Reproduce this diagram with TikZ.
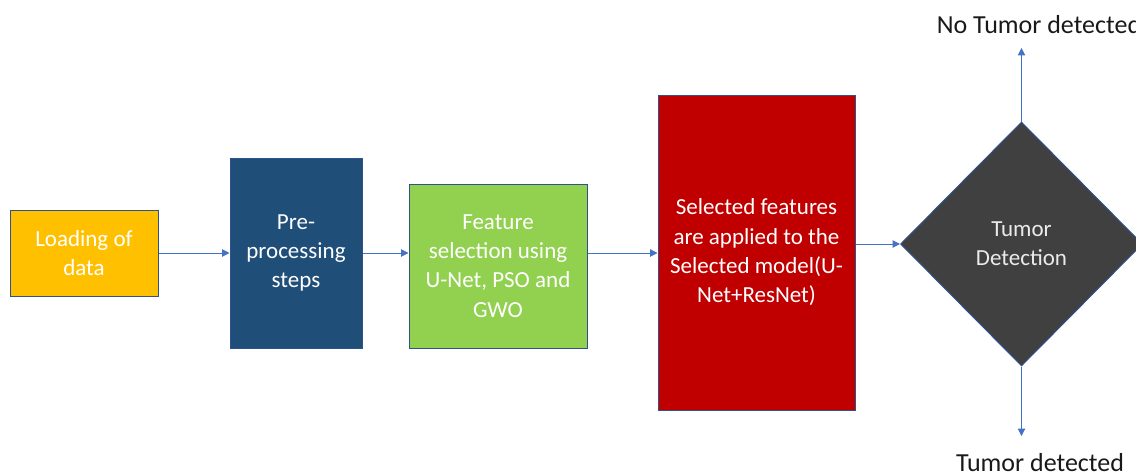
\documentclass[tikz,border=0pt]{standalone}
\usepackage{fontspec}
\setmainfont{Carlito}
\usetikzlibrary{shapes.geometric,arrows.meta}

\definecolor{boxline}{HTML}{2F528F}
\definecolor{flowblue}{HTML}{4472C4}
\definecolor{loadyellow}{HTML}{FFC000}
\definecolor{prepblue}{HTML}{1F4E79}
\definecolor{featgreen}{HTML}{92D050}
\definecolor{modelred}{HTML}{C00000}
\definecolor{testgrey}{HTML}{404040}

\tikzset{
	yellow node/.style={rectangle, draw=boxline, line width=0.75pt, fill=loadyellow, text=white, align=center, inner sep=0, minimum width=111pt, minimum height=64.5pt},
	blue node/.style={rectangle, draw=boxline, line width=0.75pt, fill=prepblue, text=white, align=center, inner sep=0, minimum width=99pt, minimum height=142.5pt},
	green node/.style={rectangle, draw=boxline, line width=0.75pt, fill=featgreen, text=white, align=center, inner sep=0, minimum width=133.5pt, minimum height=123pt},
	red node/.style={rectangle, draw=boxline, line width=0.75pt, fill=modelred, text=white, align=center, inner sep=0, minimum width=147.75pt, minimum height=236.25pt},
	grey node/.style={diamond, aspect=1, draw=boxline, line width=0.75pt, fill=testgrey, text=white!92!black, align=center, inner sep=0, minimum width=181.5pt, minimum height=183pt},
	result/.style={text=black!90, inner sep=0, font=\fontsize{19.5}{24}\selectfont},
	flow/.style={draw=flowblue, line width=0.75pt, -{Triangle[width=5.5pt,length=5.5pt]}},
}

\begin{document}
\begin{tikzpicture}[x=0.75pt, y=-0.75pt, every node/.style={font=\fontsize{17.25}{22}\selectfont}]

\useasboundingbox (0,0) rectangle (1136,475);

% boxes of the pipeline
\node (load)[yellow node] at (84,253) {Loading of\\data};
\node (prep)[blue node] at (296,253) {Pre-\\processing\\steps};
\node (feat)[green node] at (498,266) {Feature\\selection using\\U-Net, PSO and\\GWO};
\node (model)[red node] at (756.5,252.5) {Selected features\\are applied to the\\Selected model(U-\\Net+ResNet)};
\node (test)[grey node] at (1021.5,244) {Tumor\\Detection};

% outcomes
\node (none)[result, anchor=base] at (1039,33) {No Tumor detected};
\node (found)[result, anchor=base] at (1040,471) {Tumor detected};
\coordinate (up) at (1021.5,48);
\coordinate (down) at (1021.5,436);

% connectors
\draw[flow] (load.east) -- (prep.west);
\draw[flow] (prep.east) -- (feat.west |- prep.east);
\draw[flow] (feat.east |- prep.east) -- (model.west |- prep.east);
\draw[flow] (model.east |- test.west) -- (test.west);
\draw[flow] (test.north) -- (up);
\draw[flow] (test.south) -- (down);

\end{tikzpicture}
\end{document}
